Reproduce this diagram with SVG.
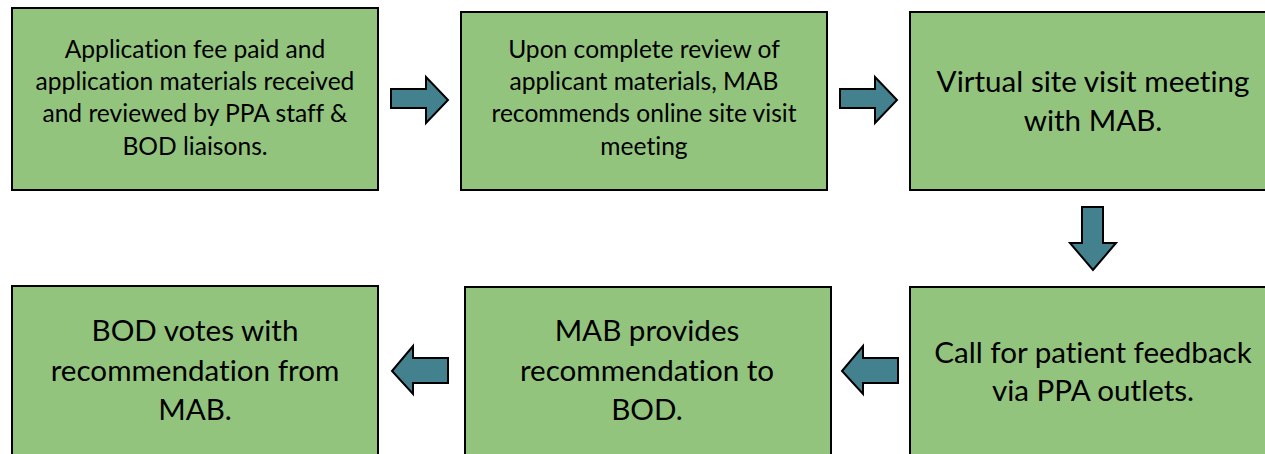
<svg xmlns="http://www.w3.org/2000/svg" width="1265" height="454" viewBox="0 0 1265 454">
<style>
.box{fill:#93c47d;stroke:#000;stroke-width:2}
.arr{fill:#44818f;stroke:#000;stroke-width:2;stroke-linejoin:miter}
.t{font-family:Lato,"Open Sans",sans-serif;fill:#000;text-anchor:middle;font-variant-ligatures:none;font-feature-settings:"liga" 0}
.s{font-size:24.6px}
.l{font-size:29.6px}
</style>
<rect width="1265" height="454" fill="#fff"/>
<g id="node1">
<rect class="box" x="12" y="8" width="366" height="182"/>
<text class="t s" x="195"><tspan x="195" y="58">Application fee paid and</tspan><tspan x="195" y="90">application materials received</tspan><tspan x="195" y="122">and reviewed by PPA staff &amp;</tspan><tspan x="195" y="155">BOD liaisons.</tspan></text>
</g>
<g id="node2">
<rect class="box" x="461" y="12" width="366" height="178"/>
<text class="t s" x="644"><tspan x="644" y="58">Upon complete review of</tspan><tspan x="644" y="90">applicant materials, MAB</tspan><tspan x="644" y="122">recommends online site visit</tspan><tspan x="644" y="155">meeting</tspan></text>
</g>
<g id="node3">
<rect class="box" x="910" y="12" width="365" height="178"/>
<text class="t l" x="1093"><tspan x="1093" y="92">Virtual site visit meeting</tspan><tspan x="1093" y="131">with MAB.</tspan></text>
</g>
<g id="node4">
<rect class="box" x="12" y="286" width="366" height="180"/>
<text class="t l" x="195"><tspan x="195" y="341">BOD votes with</tspan><tspan x="195" y="381">recommendation from</tspan><tspan x="195" y="420">MAB.</tspan></text>
</g>
<g id="node5">
<rect class="box" x="465" y="287" width="366" height="180"/>
<text class="t l" x="647"><tspan x="647" y="341">MAB provides</tspan><tspan x="647" y="381">recommendation to</tspan><tspan x="647" y="420">BOD.</tspan></text>
</g>
<g id="node6">
<rect class="box" x="910" y="287" width="365" height="180"/>
<text class="t l" x="1093"><tspan x="1093" y="363">Call for patient feedback</tspan><tspan x="1093" y="401">via PPA outlets.</tspan></text>
</g>
<g id="connectors">
<polygon class="arr" points="391,89 426,89 426,77 448,100 426,123 426,108 391,108"/>
<polygon class="arr" points="840,89 875,89 875,77 897,100 875,123 875,108 840,108"/>
<polygon class="arr" points="1082,207 1103,207 1103,243 1116,243 1093,270 1070,243 1082,243"/>
<polygon class="arr" points="448,358 413,358 413,346 392,371 413,394 413,383 448,383"/>
<polygon class="arr" points="898,358 863,358 863,346 842,371 863,394 863,383 898,383"/>
</g>
</svg>
